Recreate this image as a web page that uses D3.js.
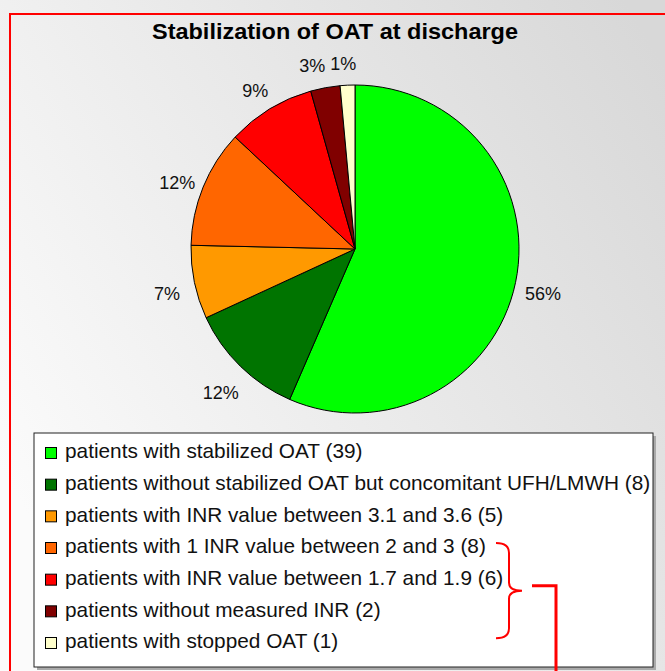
<!DOCTYPE html>
<html>
<head>
<meta charset="utf-8">
<script src="https://cdn.jsdelivr.net/npm/d3@7"></script>
<style>
  html, body { margin: 0; padding: 0; overflow: hidden; }
  text { font-family: "Liberation Sans", Arial, sans-serif; }
</style>
</head>
<body>
<div id="chart"></div>
<script>
// data
var categories = [
    "patients with stabilized OAT (39)",
    "patients without stabilized OAT but concomitant UFH/LMWH (8)",
    "patients with INR value between 3.1 and 3.6 (5)",
    "patients with 1 INR value between 2 and 3 (8)",
    "patients with INR value between 1.7 and 1.9 (6)",
    "patients without measured INR (2)",
    "patients with stopped OAT (1)"
];
var counts = [39, 8, 5, 8, 6, 2, 1];
var colours = ["#00ff00", "#007400", "#ff9900", "#ff6600", "#ff0000", "#800000", "#ffffcc"];
var title = "Stabilization of OAT at discharge";

var width = 665,
    height = 671;

var svg = d3.select("#chart").append("svg")
    .attr("width", width)
    .attr("height", height);

// background gradient, light bottom-left to grey top-right
var defs = svg.append("defs");
var grad = defs.append("linearGradient")
    .attr("id", "bg")
    .attr("x1", 0).attr("y1", 0.7)
    .attr("x2", 1).attr("y2", 0.1);
grad.append("stop").attr("offset", 0).attr("stop-color", "#fbfbfb");
grad.append("stop").attr("offset", 1).attr("stop-color", "#d8d8d8");

svg.append("rect")
    .attr("width", width)
    .attr("height", height)
    .attr("fill", "url(#bg)");

// red frame (runs off the right and bottom edge)
svg.append("rect")
    .attr("x", 10).attr("y", 14)
    .attr("width", 700).attr("height", 700)
    .attr("fill", "none")
    .attr("stroke", "#ff0000")
    .attr("stroke-width", 2);

svg.append("text")
    .attr("x", 335)
    .attr("y", 39)
    .attr("text-anchor", "middle")
    .attr("textLength", 366)
    .attr("lengthAdjust", "spacingAndGlyphs")
    .style("font-size", "21.5px")
    .style("font-weight", "bold")
    .text(title);

// pie
var cx = 355, cy = 249, radius = 164;
var total = d3.sum(counts);

// percentages rounded so they add to 100 (largest remainder)
var raw = counts.map(function(c) { return c / total * 100; });
var pct = raw.map(Math.floor);
var left = 100 - d3.sum(pct);
d3.range(counts.length)
    .sort(function(a, b) { return (raw[b] - pct[b]) - (raw[a] - pct[a]); })
    .slice(0, left)
    .forEach(function(i) { pct[i] += 1; });

var pie = d3.pie().sort(null).value(function(d) { return d; });
var arcs = pie(counts);

var arc = d3.arc().innerRadius(0).outerRadius(radius);
var labelArc = d3.arc().innerRadius(192).outerRadius(192);

var g = svg.append("g").attr("transform", "translate(" + cx + "," + cy + ")");

g.selectAll(".slice")
    .data(arcs)
    .enter().append("path")
    .attr("class", "slice")
    .attr("d", arc)
    .attr("fill", function(d, i) { return colours[i]; })
    .attr("stroke", "#000")
    .attr("stroke-width", 1);

var labels = g.selectAll(".lbl")
    .data(arcs)
    .enter().append("text")
    .attr("class", "lbl")
    .attr("text-anchor", "middle")
    .attr("dy", "0.35em")
    .style("font-size", "18px")
    .attr("fill", "#111")
    .text(function(d, i) { return pct[i] + "%"; });

// place labels, pushing a label left when it runs into the next one
var pos = arcs.map(function(d) { var c = labelArc.centroid(d); return [c[0], c[1] + 6]; });
var widths = [];
labels.each(function() { widths.push(this.getComputedTextLength()); });
for (var i = pos.length - 1; i > 0; i--) {
    var need = (widths[i] + widths[i - 1]) / 2 + 5;
    if (Math.abs(pos[i][1] - pos[i - 1][1]) < 18 && pos[i][0] - pos[i - 1][0] < need) {
        pos[i - 1][0] = pos[i][0] - need - 3;
        pos[i][0] -= 3;
    }
}
labels.attr("transform", function(d, i) { return "translate(" + pos[i] + ")"; });

// legend box with shadow
var lx = 34, ly = 433, lw = 619, lh = 234;
svg.append("rect")
    .attr("x", lx + 3).attr("y", ly + 3)
    .attr("width", lw).attr("height", lh)
    .attr("fill", "#aaa");
svg.append("rect")
    .attr("x", lx).attr("y", ly)
    .attr("width", lw).attr("height", lh)
    .attr("fill", "#fff")
    .attr("stroke", "#222")
    .attr("stroke-width", 1);

var rowY = d3.scalePoint()
    .domain(d3.range(categories.length))
    .range([451, 641]);

var items = svg.selectAll(".item")
    .data(categories)
    .enter().append("g")
    .attr("class", "item")
    .attr("transform", function(d, i) { return "translate(0," + rowY(i) + ")"; });

items.append("rect")
    .attr("x", 45.5).attr("y", -3.5)
    .attr("width", 11).attr("height", 11)
    .attr("fill", function(d, i) { return colours[i]; })
    .attr("stroke", "#000")
    .attr("stroke-width", 1);

items.append("text")
    .attr("x", 65)
    .attr("dy", "0.35em")
    .style("font-size", "20.8px")
    .attr("fill", "#111")
    .text(function(d) { return d; });

// red brace grouping rows 4-6 and the pointer line
var bTop = rowY(3) - 3, bBot = rowY(5) + 29, bMid = (bTop + bBot) / 2;
var brace = d3.path();
brace.moveTo(496, bTop);
brace.quadraticCurveTo(509, bTop, 509, bTop + 10);
brace.lineTo(509, bMid - 8);
brace.quadraticCurveTo(509, bMid, 522, bMid);
brace.quadraticCurveTo(509, bMid, 509, bMid + 8);
brace.lineTo(509, bBot - 10);
brace.quadraticCurveTo(509, bBot, 496, bBot);

svg.append("path")
    .attr("d", brace.toString())
    .attr("fill", "none")
    .attr("stroke", "#ff0000")
    .attr("stroke-width", 2);

svg.append("path")
    .attr("d", "M532," + (bMid - 5) + "H556V" + height)
    .attr("fill", "none")
    .attr("stroke", "#ff0000")
    .attr("stroke-width", 3);
</script>
</body>
</html>
